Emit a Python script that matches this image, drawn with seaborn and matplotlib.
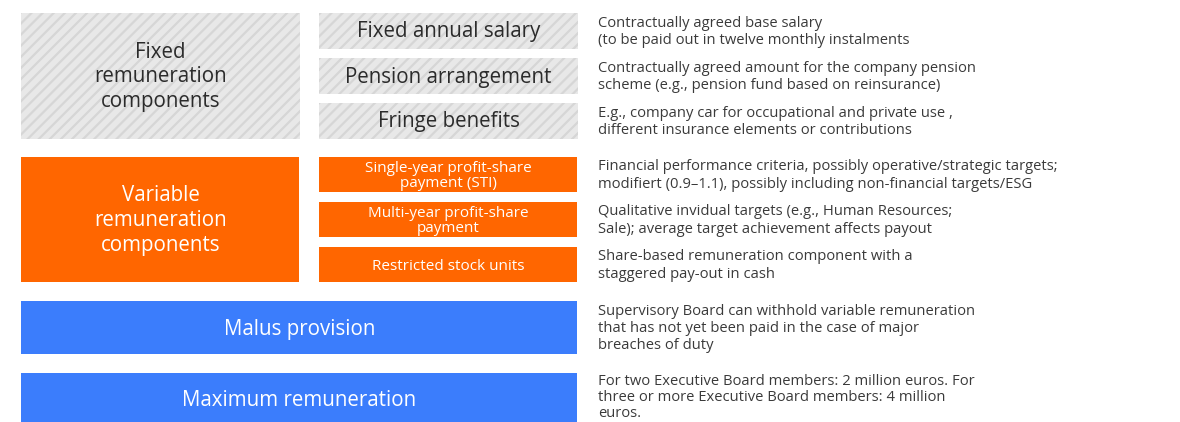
import matplotlib
matplotlib.use("Agg")
import matplotlib.pyplot as plt
import seaborn as sns

# ---- content ----
group_labels = ["Fixed\nremuneration\ncomponents",
                "Variable\nremuneration\ncomponents"]
fixed_items = ["Fixed annual salary", "Pension arrangement", "Fringe benefits"]
variable_items = ["Single-year profit-share\npayment (STI)",
                  "Multi-year profit-share\npayment",
                  "Restricted stock units"]
wide_items = ["Malus provision", "Maximum remuneration"]
fixed_desc = ["Contractually agreed base salary\n(to be paid out in twelve monthly instalments",
              "Contractually agreed amount for the company pension\nscheme (e.g., pension fund based on reinsurance)",
              "E.g., company car for occupational and private use ,\ndifferent insurance elements or contributions"]
variable_desc = ["Financial performance criteria, possibly operative/strategic targets;\nmodifiert (0.9\u20131.1), possibly including non-financial targets/ESG",
                 "Qualitative invidual targets (e.g., Human Resources;\nSale); average target achievement affects payout",
                 "Share-based remuneration component with a\nstaggered pay-out in cash"]
wide_desc = ["Supervisory Board can withhold variable remuneration\nthat has not yet been paid in the case of major\nbreaches of duty",
             "For two Executive Board members: 2 million euros. For\nthree or more Executive Board members: 4 million\neuros."]

# ---- layout (pixels) ----
W, H = 1180, 422
BIG_X0, BIG_X1 = 21, 300
SM_X0, SM_X1 = 319, 578
DESC_X = 598
fixed_rows = [(13, 49), (58, 94), (103, 139)]
var_rows = [(157, 192), (202, 237), (247, 282)]
wide_rows = [(301, 354), (373, 422)]
wide_desc_offset = [3, 1]
wide_desc_ls = [1.2, 1.08]
GRAY_BG, GRAY_HATCH = "#e8e8e8", "#d6d6d6"
ORANGE = "#ff6600"
BLUE = "#3b7dfc"
DARK = "#2b2b2b"
DESC_C = "#3a3a3a"

sns.set_theme(style="white")
plt.rcParams["font.family"] = ["Open Sans", "DejaVu Sans"]
plt.rcParams["hatch.linewidth"] = 1.6
plt.rcParams["hatch.color"] = GRAY_HATCH

fig = plt.figure(figsize=(W / 100, H / 100), dpi=100)
ax = fig.add_axes([0, 0, 1, 1])
ax.set_xlim(0, W)
ax.set_ylim(H, 0)
ax.axis("off")

BIG_FS = 14.8
DESC_FS = 10.6
SMALL_FS = 11.0
DESC_LS = 1.2


def box(x0, x1, y0, y1, color, hatch=None):
    ax.barh([(y0 + y1) / 2], [x1 - x0], left=[x0], height=y1 - y0,
            color=color, hatch=hatch, edgecolor=GRAY_HATCH if hatch else color,
            linewidth=0)


# fixed group
box(BIG_X0, BIG_X1, fixed_rows[0][0], fixed_rows[-1][1], GRAY_BG, "///")
ax.text((BIG_X0 + BIG_X1) / 2, (fixed_rows[0][0] + fixed_rows[-1][1]) / 2 + 1,
        group_labels[0], ha="center", va="center", fontsize=BIG_FS, color=DARK,
        linespacing=1.22)
for (y0, y1), lab, desc in zip(fixed_rows, fixed_items, fixed_desc):
    box(SM_X0, SM_X1, y0, y1, GRAY_BG, "///")
    ax.text((SM_X0 + SM_X1) / 2, (y0 + y1) / 2 + 1, lab, ha="center", va="center",
            fontsize=BIG_FS, color=DARK)
    ax.text(DESC_X, (y0 + y1) / 2 + 1, desc, ha="left", va="center",
            fontsize=DESC_FS, color=DESC_C, linespacing=DESC_LS)

# variable group
box(BIG_X0, BIG_X1 - 1, var_rows[0][0], var_rows[-1][1], ORANGE)
ax.text((BIG_X0 + BIG_X1) / 2, (var_rows[0][0] + var_rows[-1][1]) / 2 + 1,
        group_labels[1], ha="center", va="center", fontsize=BIG_FS, color="white",
        linespacing=1.22)
for (y0, y1), lab, desc in zip(var_rows, variable_items, variable_desc):
    box(SM_X0, SM_X1 - 1, y0, y1, ORANGE)
    ax.text((SM_X0 + SM_X1) / 2, (y0 + y1) / 2 + 1.5, lab, ha="center", va="center",
            fontsize=SMALL_FS, color="white", linespacing=0.98)
    ax.text(DESC_X, (y0 + y1) / 2 + 1, desc, ha="left", va="center",
            fontsize=DESC_FS, color=DESC_C, linespacing=DESC_LS)

# wide rows
for (y0, y1), lab, desc, off, ls in zip(wide_rows, wide_items, wide_desc,
                                         wide_desc_offset, wide_desc_ls):
    box(BIG_X0, SM_X1 - 1, y0, y1, BLUE)
    ax.text((BIG_X0 + SM_X1) / 2, (y0 + y1) / 2 + 2.5, lab, ha="center", va="center",
            fontsize=BIG_FS, color="white")
    ax.text(DESC_X, y0 + off, desc, ha="left", va="top",
            fontsize=DESC_FS, color=DESC_C, linespacing=ls)

fig.savefig("out.png", dpi=100)
